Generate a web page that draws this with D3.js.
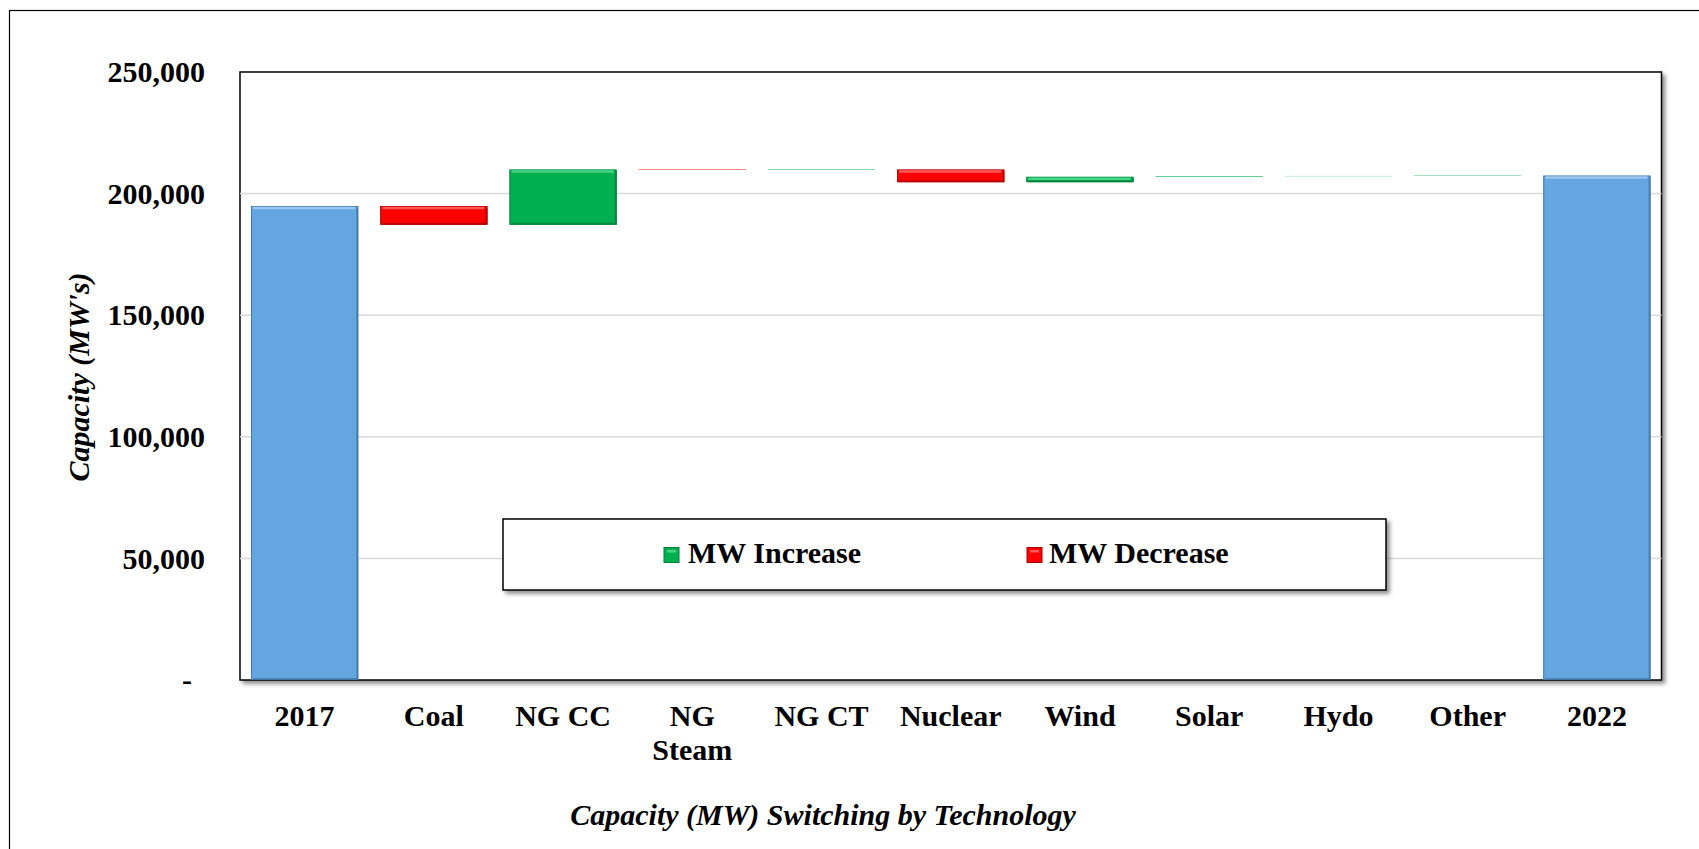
<!DOCTYPE html>
<html lang="en">
<head>
    <meta charset="UTF-8">
    <title>Capacity Switching by Technology</title>
    <style>
        body { margin: 0; background: #fff; }
        svg text { font-family: "Liberation Serif", "Times New Roman", serif; font-weight: bold; fill: #000; }
    </style>
</head>
<body>
    <div id="chart"></div>
    <script src="https://d3js.org/d3.v7.min.js"></script>
    <script>
        // Data (MW)
        const categories = ["2017", "Coal", "NG CC", "NG Steam", "NG CT", "Nuclear", "Wind", "Solar", "Hydo", "Other", "2022"];
        const kinds = ["total", "delta", "delta", "delta", "delta", "delta", "delta", "delta", "delta", "delta", "total"];
        const values = [194900, -7700, 22700, -200, 200, -5200, 2200, 250, 100, 150, 207400];
        const yTicks = [0, 50000, 100000, 150000, 200000, 250000];
        const legendLabels = ["MW Increase", "MW Decrease"];

        const colors = {
            total: "#65a5e0", totalEdge: "#3f6f9e", totalHi: "#9cc8ef",
            up: "#00b050", upEdge: "#0a7a3a", upHi: "#45d683",
            down: "#ff0000", downEdge: "#a50000", downHi: "#ff5a5a"
        };

        const W = 1699, H = 849;
        const plot = {left: 240, top: 72, right: 1661.5, bottom: 680};

        // build waterfall segments
        let running = 0;
        const bars = categories.map((c, i) => {
            let lo, hi, type;
            if (kinds[i] === "total") {
                lo = 0; hi = values[i]; running = values[i]; type = "total";
            } else {
                const start = running;
                running += values[i];
                lo = Math.min(start, running); hi = Math.max(start, running);
                type = values[i] >= 0 ? "up" : "down";
            }
            return {cat: c, lo, hi, type};
        });

        const svg = d3.select("#chart").append("svg")
            .attr("width", W).attr("height", H);

        const defs = svg.append("defs");
        const sh = defs.append("filter").attr("id", "shadow")
            .attr("x", "-5%").attr("y", "-5%").attr("width", "110%").attr("height", "115%");
        sh.append("feDropShadow").attr("dx", 3).attr("dy", 3).attr("stdDeviation", 2)
            .attr("flood-color", "#000").attr("flood-opacity", 0.45);

        // outer chart border
        svg.append("rect").attr("x", 9.5).attr("y", 10.5).attr("width", 1720).attr("height", 900)
            .attr("fill", "#fff").attr("stroke", "#000").attr("stroke-width", 1.2);

        const x = d3.scaleBand()
            .domain(categories)
            .range([plot.left, plot.right])
            .paddingInner(0.17)
            .paddingOuter(0.085);

        const y = d3.scaleLinear()
            .domain([0, 250000])
            .range([plot.bottom, plot.top]);

        // plot area
        svg.append("rect")
            .attr("x", plot.left).attr("y", plot.top)
            .attr("width", plot.right - plot.left).attr("height", plot.bottom - plot.top)
            .attr("fill", "#fff").attr("stroke", "#000").attr("stroke-width", 1.5)
            .attr("filter", "url(#shadow)");

        // gridlines
        svg.append("g").selectAll("line")
            .data(yTicks.filter(d => d > 0 && d < 250000))
            .join("line")
            .attr("x1", plot.left).attr("x2", plot.right)
            .attr("y1", d => y(d)).attr("y2", d => y(d))
            .attr("stroke", "#d9d9d9").attr("stroke-width", 1.5);

        // bars
        const g = svg.append("g");
        bars.forEach(b => {
            const bx = x(b.cat), bw = x.bandwidth();
            const by = y(b.hi), bh = y(b.lo) - y(b.hi);
            const fill = colors[b.type];
            const edge = colors[b.type + "Edge"];
            const hi = colors[b.type + "Hi"];
            g.append("rect")
                .attr("x", bx).attr("y", by).attr("width", bw).attr("height", bh)
                .attr("fill", fill);
            if (bh > 4) {
                // bevel look: light top, dark sides and bottom
                g.append("rect")
                    .attr("x", bx + 0.5).attr("y", by + 0.5).attr("width", bw - 1).attr("height", bh - 1)
                    .attr("fill", "none").attr("stroke", edge).attr("stroke-width", 1).attr("stroke-opacity", 0.8);
                g.append("path")
                    .attr("d", `M${bx + bw - 1},${by + 2}V${by + bh - 1}H${bx + 2}`)
                    .attr("fill", "none").attr("stroke", edge).attr("stroke-width", 2).attr("stroke-opacity", 0.6);
                g.append("line")
                    .attr("x1", bx + 2).attr("x2", bx + bw - 3)
                    .attr("y1", by + 2).attr("y2", by + 2)
                    .attr("stroke", hi).attr("stroke-width", 2.5);
            }
        });

        // y axis
        const yAxis = svg.append("g")
            .attr("transform", `translate(${plot.left},0)`)
            .call(d3.axisLeft(y).tickValues(yTicks).tickSize(0).tickPadding(35)
                .tickFormat(d => d === 0 ? "-" : d3.format(",")(d)));
        yAxis.select(".domain").remove();
        yAxis.selectAll("text")
            .style("font-size", "30px")
            .style("font-family", "'Liberation Serif', 'Times New Roman', serif")
            .style("font-weight", "bold")
            .attr("fill", "#000");
        yAxis.selectAll(".tick").filter(d => d === 0).select("text").attr("x", -48);

        // x axis
        const xAxis = svg.append("g")
            .attr("transform", `translate(0,${plot.bottom})`)
            .call(d3.axisBottom(x).tickSize(0).tickPadding(25));
        xAxis.select(".domain").remove();
        xAxis.selectAll("text")
            .style("font-size", "30px")
            .style("font-family", "'Liberation Serif', 'Times New Roman', serif")
            .style("font-weight", "bold")
            .attr("fill", "#000")
            .each(function(d) {
                const words = d.split(" ");
                if (d === "NG Steam") {
                    const t = d3.select(this).text(null);
                    words.forEach((w, i) => {
                        t.append("tspan").attr("x", 0).attr("dy", i === 0 ? "0.71em" : "1.13em").text(w);
                    });
                    t.attr("dy", null);
                }
            });

        // axis titles
        svg.append("text")
            .attr("transform", "translate(78,377) rotate(-90)")
            .attr("text-anchor", "middle").attr("dy", "0.35em")
            .style("font-size", "30px").style("font-style", "italic")
            .text("Capacity (MW's)");

        svg.append("text")
            .attr("x", 823).attr("y", 825)
            .attr("text-anchor", "middle")
            .style("font-size", "30px").style("font-style", "italic")
            .text("Capacity (MW) Switching by Technology");

        // legend
        const lg = svg.append("g");
        lg.append("rect")
            .attr("x", 503).attr("y", 519).attr("width", 883).attr("height", 71)
            .attr("fill", "#fff").attr("stroke", "#000").attr("stroke-width", 1.5)
            .attr("filter", "url(#shadow)");
        const legendItems = [
            {label: legendLabels[0], type: "up", sx: 664, tx: 688},
            {label: legendLabels[1], type: "down", sx: 1027, tx: 1049}
        ];
        legendItems.forEach(it => {
            lg.append("rect")
                .attr("x", it.sx).attr("y", 547.5).attr("width", 15).attr("height", 15)
                .attr("fill", colors[it.type]).attr("stroke", colors[it.type + "Edge"]).attr("stroke-width", 1);
            lg.append("rect")
                .attr("x", it.sx + 3).attr("y", 550).attr("width", 9).attr("height", 2.5)
                .attr("fill", colors[it.type + "Hi"]);
            lg.append("text")
                .attr("x", it.tx).attr("y", 563)
                .style("font-size", "30px")
                .text(it.label);
        });
    </script>
</body>
</html>
